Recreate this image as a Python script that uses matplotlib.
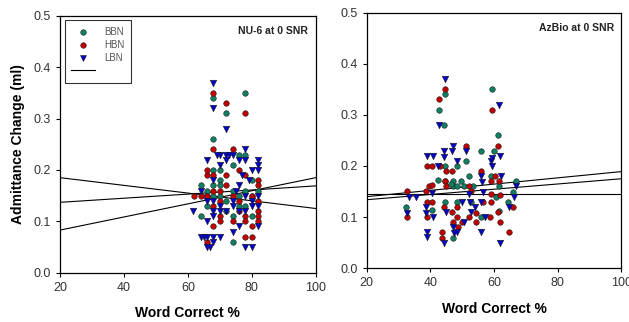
import numpy as np
import matplotlib
matplotlib.use('Agg')
import matplotlib.pyplot as plt
from matplotlib.lines import Line2D

plt.rcParams['font.family'] = ['Liberation Sans', 'DejaVu Sans']

# ---- NU-6 at 0 SNR (left panel) ----
nu_bbn_x = [64, 64, 66, 66, 68, 68, 68, 68, 68, 70, 70, 70, 70, 72, 72, 74, 74, 74, 74,
            76, 76, 76, 78, 78, 78, 78, 80, 80, 82, 66, 72, 80]
nu_bbn_y = [0.17, 0.11, 0.16, 0.15, 0.34, 0.26, 0.20, 0.17, 0.15, 0.20, 0.18, 0.17, 0.15, 0.31, 0.14,
            0.21, 0.16, 0.11, 0.06, 0.23, 0.15, 0.13, 0.35, 0.23, 0.16, 0.13, 0.18, 0.11, 0.16, 0.13, 0.12, 0.15]
nu_hbn_x = [62, 66, 66, 66, 66, 68, 68, 68, 68, 68, 68, 70, 70, 70, 72, 72, 72, 74, 74, 74,
            76, 76, 78, 78, 78, 78, 78, 80, 80, 80, 82, 82, 82, 82, 82, 82, 64, 70, 76]
nu_hbn_y = [0.15, 0.19, 0.20, 0.15, 0.06, 0.35, 0.24, 0.19, 0.16, 0.09, 0.13, 0.16, 0.11, 0.10,
            0.33, 0.19, 0.17, 0.24, 0.15, 0.10, 0.20, 0.14, 0.31, 0.19, 0.11, 0.10, 0.07, 0.15, 0.09, 0.07,
            0.18, 0.17, 0.14, 0.12, 0.11, 0.10, 0.15, 0.14, 0.12]
nu_lbn_x = [61.5, 64, 64, 65, 66, 66, 66, 66, 66, 68, 68, 68, 68, 68, 68, 68, 68, 70, 70, 70, 70, 70,
            72, 72, 72, 72, 74, 74, 74, 74, 76, 76, 76, 76, 78, 78, 78, 78, 78, 80, 80, 80, 80,
            82, 82, 82, 82, 82, 82, 67, 69, 73, 75, 77, 79]
nu_lbn_y = [0.12, 0.16, 0.07, 0.07, 0.22, 0.14, 0.10, 0.05, 0.07, 0.37, 0.32, 0.18, 0.14, 0.12, 0.11,
            0.07, 0.06, 0.23, 0.21, 0.13, 0.12, 0.07, 0.28, 0.23, 0.22, 0.12, 0.23, 0.14, 0.13, 0.08,
            0.22, 0.17, 0.12, 0.09, 0.24, 0.22, 0.15, 0.12, 0.05, 0.20, 0.14, 0.13, 0.05,
            0.22, 0.21, 0.20, 0.15, 0.13, 0.09, 0.05, 0.23, 0.23, 0.16, 0.19, 0.18]
# regression lines (end values at x=20 and x=100)
nu_fit_x = [20, 100]
nu_fits = [[0.185, 0.125], [0.137, 0.169], [0.083, 0.185]]

# ---- AzBio at 0 SNR (right panel) ----
az_bbn_x = [32.3, 40.4, 42.7, 44.4, 44.6, 42.5, 44.6, 44.6, 47, 47, 47.2, 48.2, 48.2, 48.4, 49.6,
            51.2, 52.2, 52.8, 55.9, 55.9, 59, 59.4, 60, 61.3, 61.6, 61.6, 64.5, 66, 67,
            44.5, 46.5, 50.5, 60.5, 53.5]
az_bbn_y = [0.12, 0.113, 0.31, 0.28, 0.34, 0.172, 0.20, 0.13, 0.17, 0.16, 0.06, 0.20, 0.16, 0.13, 0.17,
            0.21, 0.18, 0.13, 0.23, 0.10, 0.18, 0.35, 0.23, 0.26, 0.16, 0.112, 0.13, 0.15, 0.17,
            0.17, 0.165, 0.16, 0.14, 0.16]
az_hbn_x = [32.5, 32.5, 39, 40.4, 38.6, 39, 40.6, 39, 39.5, 40.5, 42.9, 42.7, 44.6, 44.9, 44.6, 44.9,
            44.2, 43.8, 43.5, 46.9, 46.9, 47.2, 48.2, 48.4, 48.6, 49.8, 51.2, 52.2, 52, 52.8, 54.3,
            54.3, 56, 56.5, 58.7, 59, 59, 59, 59.4, 60.3, 61.3, 61.6, 61.2, 61.8, 62, 64.7, 66]
az_hbn_y = [0.151, 0.10, 0.20, 0.20, 0.151, 0.13, 0.13, 0.10, 0.16, 0.163, 0.20, 0.33, 0.35, 0.19, 0.17,
            0.16, 0.12, 0.07, 0.06, 0.19, 0.11, 0.09, 0.12, 0.10, 0.08, 0.09, 0.24, 0.16, 0.10, 0.152, 0.108,
            0.09, 0.19, 0.13, 0.10, 0.17, 0.146, 0.13, 0.31, 0.18, 0.24, 0.17, 0.11, 0.09, 0.143, 0.07, 0.12]
az_lbn_x = [32.8, 33.4, 35.5, 38.8, 40.7, 38.6, 38.6, 38.8, 39, 40.5, 40.8, 42.5, 42.7, 44.6, 44.4,
            44.2, 45, 44.4, 47, 46.8, 47.2, 47.4, 48.2, 48.2, 49.8, 50.5, 51.2, 52.2, 52.4, 52.6, 54,
            56, 56.2, 55.8, 56, 57, 56.4, 59, 59.3, 59.5, 61.8, 61.6, 62, 62.1, 64.8, 66.2, 67]
az_lbn_y = [0.108, 0.139, 0.139, 0.22, 0.22, 0.12, 0.108, 0.07, 0.062, 0.147, 0.10, 0.20, 0.28, 0.37,
            0.23, 0.218, 0.11, 0.05, 0.24, 0.23, 0.08, 0.068, 0.21, 0.07, 0.13, 0.09, 0.23, 0.145, 0.13,
            0.11, 0.12, 0.18, 0.168, 0.13, 0.07, 0.10, 0.15, 0.21, 0.20, 0.215, 0.22, 0.32, 0.05, 0.18,
            0.12, 0.14, 0.16]
az_fit_x = [20, 100]
az_fits = [[0.145, 0.145], [0.140, 0.189], [0.134, 0.175]]

c_bbn = '#0e7f62'
c_hbn = '#c00000'
c_lbn = '#0000c8'

fig = plt.figure(figsize=(6.29, 3.22), dpi=100)
ax1 = fig.add_axes([0.0954, 0.153, 0.4066, 0.798])
ax2 = fig.add_axes([0.583, 0.167, 0.405, 0.794])


def draw(ax, bx, by, hx, hy, lx, ly, fx, fits, title):
    for f in fits:
        ax.plot(fx, f, color='black', lw=0.8, zorder=2)
    ax.scatter(bx, by, s=16, c=c_bbn, edgecolors='#222222', linewidths=0.4, zorder=3)
    ax.scatter(hx, hy, s=16, c=c_hbn, edgecolors='#222222', linewidths=0.4, zorder=3)
    ax.scatter(lx, ly, s=22, c=c_lbn, marker='v', edgecolors='#222222', linewidths=0.4, zorder=3)
    ax.set_xlim(20, 100)
    ax.set_ylim(0, 0.5)
    ax.set_xticks([20, 40, 60, 80, 100])
    ax.set_yticks([0.0, 0.1, 0.2, 0.3, 0.4, 0.5])
    ax.set_yticklabels(['0.0', '0.1', '0.2', '0.3', '0.4', '0.5'])
    ax.tick_params(labelsize=9, labelcolor='#333333', length=3, width=0.8, direction='out')
    for sp in ax.spines.values():
        sp.set_linewidth(0.9)
    ax.text(0.97, 0.96, title, transform=ax.transAxes, ha='right', va='top',
            fontsize=7.5, fontweight='bold', color='#222222')
    ax.set_xlabel('Word Correct %', fontsize=10, fontweight='bold', labelpad=9)


draw(ax1, nu_bbn_x, nu_bbn_y, nu_hbn_x, nu_hbn_y, nu_lbn_x, nu_lbn_y, nu_fit_x, nu_fits, 'NU-6 at 0 SNR')
draw(ax2, az_bbn_x, az_bbn_y, az_hbn_x, az_hbn_y, az_lbn_x, az_lbn_y, az_fit_x, az_fits, 'AzBio at 0 SNR')
ax1.set_ylabel('Admittance Change (ml)', fontsize=10, fontweight='bold', labelpad=6)

handles = [
    Line2D([], [], ls='none', marker='o', ms=4, mfc=c_bbn, mec='#222222', mew=0.4),
    Line2D([], [], ls='none', marker='o', ms=4, mfc=c_hbn, mec='#222222', mew=0.4),
    Line2D([], [], ls='none', marker='v', ms=4.5, mfc=c_lbn, mec='#222222', mew=0.4),
    Line2D([], [], color='black', lw=0.8),
]
leg = ax1.legend(handles, ['BBN', 'HBN', 'LBN', ' '], loc='upper left', bbox_to_anchor=(0.01, 0.99),
                 fontsize=7, frameon=True, fancybox=False, handlelength=2.4, labelspacing=0.3,
                 borderpad=0.7, handletextpad=1.0, borderaxespad=0.2)
leg.get_frame().set_edgecolor('black')
leg.get_frame().set_linewidth(0.8)
for t in leg.get_texts():
    t.set_color('#555555')

fig.savefig('out.png', dpi=100)
